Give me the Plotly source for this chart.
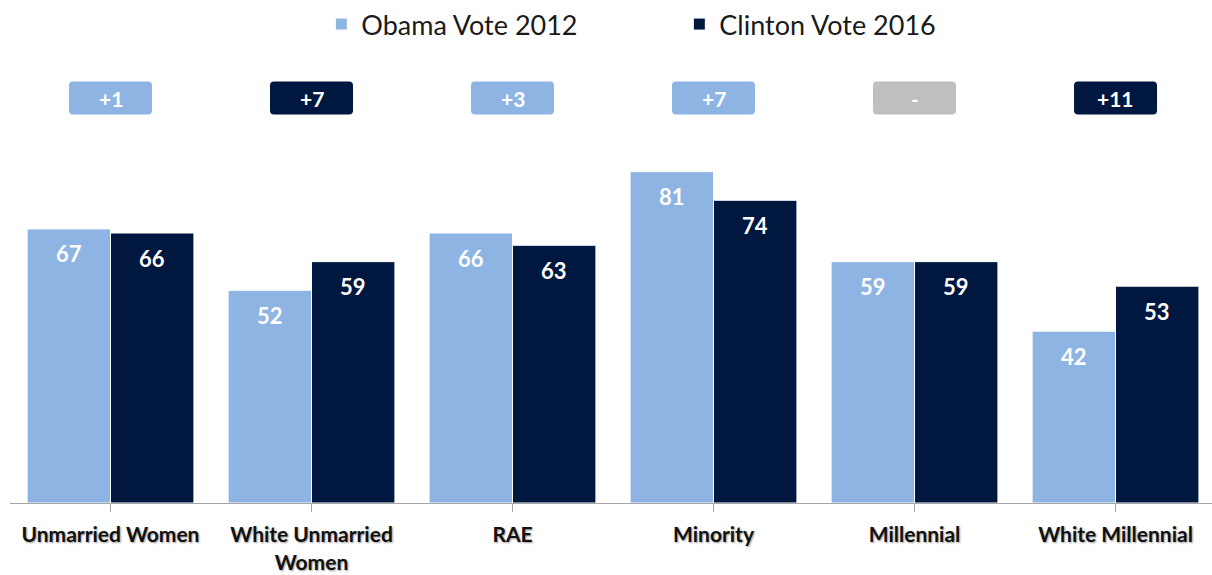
import plotly.graph_objects as go

categories = ["Unmarried Women", "White Unmarried<br>Women", "RAE", "Minority", "Millennial", "White Millennial"]
obama_2012 = [67, 52, 66, 81, 59, 42]
clinton_2016 = [66, 59, 63, 74, 59, 53]

LIGHT = "#8EB4E3"
NAVY = "#00173F"
GREY = "#BFBFBF"
FONT = "Lato"

BARGAP = 0.17
half = (1 - BARGAP) / 4  # centre offset of each bar within its group

fig = go.Figure()
fig.add_trace(go.Bar(x=list(range(len(categories))), y=obama_2012, name="Obama Vote 2012",
                     marker=dict(color=LIGHT, line=dict(color="white", width=1))))
fig.add_trace(go.Bar(x=list(range(len(categories))), y=clinton_2016, name="Clinton Vote 2016",
                     marker=dict(color=NAVY, line=dict(color="white", width=1))))

annotations = []
shapes = []
for i, (o, c) in enumerate(zip(obama_2012, clinton_2016)):
    # value labels just inside the top of each bar
    for val, off in ((o, -half), (c, half)):
        annotations.append(dict(x=i + off, y=val, text=str(val), showarrow=False,
                                yanchor="middle", yshift=-25,
                                font=dict(family=FONT, size=22, color="white", weight="bold")))
    # difference badge above each group
    diff = abs(o - c)
    if o > c:
        col, label = LIGHT, f"+{diff}"
    elif c > o:
        col, label = NAVY, f"+{diff}"
    else:
        col, label = GREY, "-"
    w, h, r = 41.5, 16.5, 4
    path = (f"M {-w + r},{-h} L {w - r},{-h} Q {w},{-h} {w},{-h + r} L {w},{h - r} Q {w},{h} {w - r},{h} "
            f"L {-w + r},{h} Q {-w},{h} {-w},{h - r} L {-w},{-h + r} Q {-w},{-h} {-w + r},{-h} Z")
    shapes.append(dict(type="path", xref="x", yref="y", xsizemode="pixel", ysizemode="pixel",
                       xanchor=i, yanchor=99, path=path, fillcolor=col, line=dict(width=0)))
    annotations.append(dict(x=i, y=99, text=label, showarrow=False, yanchor="middle",
                            font=dict(family=FONT, size=21, color="white", weight="bold")))

fig.update_layout(
    width=1212, height=575,
    margin=dict(l=10, r=0, t=60, b=72),
    paper_bgcolor="white", plot_bgcolor="white",
    barmode="group", bargap=BARGAP, bargroupgap=0.0,
    showlegend=True,
    legend=dict(orientation="h", x=0.259, xanchor="left", y=1.086, yanchor="middle",
                font=dict(family=FONT, size=27, color="#1a1a1a"),
                itemwidth=30, entrywidth=313, entrywidthmode="pixels",
                tracegroupgap=0, traceorder="normal"),
    xaxis=dict(tickmode="array", tickvals=list(range(len(categories))), ticktext=categories,
               range=[-0.5, 5.48], showgrid=False, showline=True, linecolor="#A6A6A6", linewidth=1,
               ticks="outside", tickson="boundaries", ticklen=8, tickcolor="#A6A6A6",
               ticklabelstandoff=5, automargin=False,
               tickfont=dict(family=FONT, size=21, color="#111111", weight="bold",
                             shadow="1px 1px 2px #999999"),
               zeroline=False),
    yaxis=dict(range=[0, 107.8], visible=False, showgrid=False, zeroline=False),
    annotations=annotations,
    shapes=shapes,
)

fig.write_html("out.html")
